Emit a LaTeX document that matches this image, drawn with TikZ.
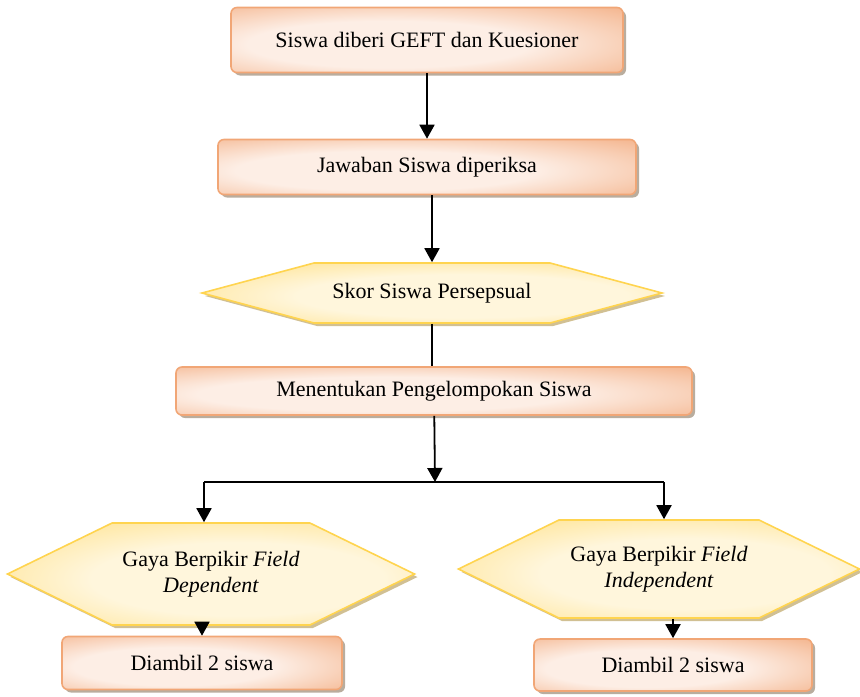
\documentclass[tikz,border=0pt]{standalone}
\usepackage{fontspec}
\setmainfont{Liberation Serif}
\usetikzlibrary{arrows.meta,shapes.symbols,shadows}

\definecolor{salmon}{HTML}{F2A87A}
\definecolor{peach}{HTML}{FDEEE5}
\definecolor{boxline}{HTML}{F1A676}
\definecolor{gold}{HTML}{FFD65E}
\definecolor{cream}{HTML}{FFF6DC}
\definecolor{hexline}{HTML}{FFD44F}
\definecolor{boxshade}{HTML}{A89886}
\definecolor{hexshade}{HTML}{C6B078}

\pgfdeclareradialshading{boxglow}{\pgfpoint{-6bp}{-4bp}}{color(0bp)=(peach); color(18bp)=(peach); color(45bp)=(salmon); color(100bp)=(salmon)}
\pgfdeclareradialshading{hexglow}{\pgfpoint{4bp}{-3bp}}{color(0bp)=(cream); color(18bp)=(cream); color(48bp)=(gold); color(100bp)=(gold)}

\tikzset{
  stepbox/.style={rectangle, rounded corners=3pt, draw=boxline, line width=0.8pt,
    shading=boxglow,
    drop shadow={shadow xshift=1.5pt, shadow yshift=-1.5pt, fill=boxshade, opacity=0.8},
    font=\fontsize{11}{13}\selectfont, align=center},
  hexbox/.style={signal, signal to=west and east, draw=hexline, line width=0.8pt,
    shading=hexglow,
    drop shadow={shadow xshift=1.5pt, shadow yshift=-1.5pt, fill=hexshade, opacity=0.8},
    font=\fontsize{11}{13}\selectfont, align=center},
  arr/.style={-{Triangle[length=7pt,width=7.5pt]}, line width=0.9pt},
  plain/.style={line width=0.9pt}
}

\begin{document}
\begin{tikzpicture}[x=0.5pt,y=-0.5pt]
  \useasboundingbox (0,0) rectangle (860,696);

  \node[stepbox, minimum width=196pt, minimum height=32.5pt] (geft) at (427,40) {Siswa diberi GEFT dan Kuesioner};
  \node[stepbox, minimum width=209pt, minimum height=27.5pt] (jawab) at (427,167) {Jawaban Siswa diperiksa};
  \node[hexbox, minimum width=230pt, minimum height=30pt, signal pointer angle=30] (skor) at (432,293) {Skor Siswa Persepsual};
  \node[stepbox, minimum width=258pt, minimum height=24pt] (tentu) at (434,391) {Menentukan Pengelompokan Siswa};

  \coordinate (cabang) at (435,482);
  \coordinate (cabangL) at (204,482);
  \coordinate (cabangR) at (664,482);

  \node[hexbox, minimum width=203.5pt, minimum height=51pt, signal pointer angle=52] (fd) at (211,574) {Gaya Berpikir \textit{Field}\\\textit{Dependent}};
  \node[hexbox, minimum width=200.5pt, minimum height=49pt, signal pointer angle=52] (fi) at (659,569) {Gaya Berpikir \textit{Field}\\\textit{Independent}};
  \node[stepbox, minimum width=140pt, minimum height=26.5pt] (ambilL) at (202,663) {Diambil 2 siswa};
  \node[stepbox, minimum width=139pt, minimum height=26pt] (ambilR) at (673,665) {Diambil 2 siswa};

  \draw[arr] (geft) -- (jawab);
  \draw[arr] (skor.north |- jawab.south) -- (skor.north);
  \draw[plain] (skor.south) -- (skor.south |- tentu.north);
  \draw[arr] (tentu) -- (cabang);
  \draw[plain] (cabangL) -- (cabangR);
  \draw[arr] (cabangL) -- (cabangL |- fd.north);
  \draw[arr] (cabangR) -- (cabangR |- fi.north);
  \draw[arr] (ambilL.north |- fd.south) -- (ambilL);
  \draw[arr] (ambilR.north |- fi.south) -- (ambilR);
\end{tikzpicture}
\end{document}
